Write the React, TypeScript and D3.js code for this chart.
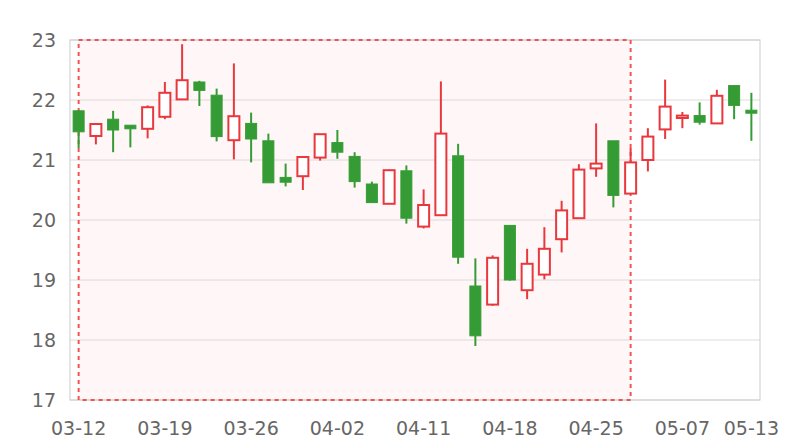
import React from 'react';
import * as d3 from 'd3';

const dates = [
  '03-12','03-13','03-14','03-15','03-16',
  '03-19','03-20','03-21','03-22','03-23',
  '03-26','03-27','03-28','03-29','03-30',
  '04-02','04-03','04-04','04-09','04-10',
  '04-11','04-12','04-13','04-16','04-17',
  '04-18','04-19','04-20','04-23','04-24',
  '04-25','04-26','04-27','05-02','05-03',
  '05-07','05-08','05-09','05-10','05-13',
];
// [open, close, low, high]
const opens = [21.82,21.4,21.68,21.58,21.52,21.72,22.01,22.3,22.08,21.33,21.61,21.32,20.71,20.73,21.04,21.29,21.06,20.6,20.27,20.82,19.89,20.08,21.07,18.9,18.59,19.91,18.83,19.09,19.68,20.03,20.86,21.32,20.44,21.0,21.51,21.7,21.74,21.61,22.24,21.83];
const closes = [21.47,21.6,21.5,21.52,21.88,22.12,22.33,22.16,21.39,21.73,21.35,20.62,20.63,21.05,21.43,21.13,20.64,20.29,20.83,20.03,20.25,21.44,19.38,18.07,19.37,19.0,19.27,19.52,20.16,20.84,20.94,20.41,20.96,21.39,21.89,21.74,21.63,22.07,21.91,21.78];
const lows = [21.2,21.26,21.13,21.21,21.36,21.68,22.0,21.9,21.31,21.01,20.96,20.62,20.56,20.5,20.99,21.02,20.54,20.29,20.27,19.94,19.86,20.08,19.27,17.9,18.57,18.99,18.68,19.01,19.46,20.03,20.72,20.21,20.44,20.81,21.35,21.53,21.59,21.61,21.68,21.32];
const highs = [21.83,21.6,21.82,21.58,21.91,22.3,22.93,22.32,22.19,22.61,21.79,21.44,20.94,21.05,21.43,21.5,21.13,20.64,20.84,20.91,20.51,22.31,21.27,19.36,19.41,19.91,19.52,19.88,20.32,20.93,21.61,21.32,21.2,21.53,22.34,21.8,21.96,22.17,22.24,22.12];
const xTickLabels = ['03-12','03-19','03-26','04-02','04-11','04-18','04-25','05-07','05-13'];
const yTicks = [17, 18, 19, 20, 21, 22, 23];
const markAreaRange = ['03-12', '04-27'];

const W = 800, H = 440;
const M = { left: 70, right: 40, top: 40, bottom: 40 };
const UP = '#e8383d';
const DOWN = '#359c35';
const FONT = 'DejaVu Sans, sans-serif';

export default function App() {
  const x = d3.scaleBand<string>().domain(dates).range([M.left, W - M.right]).padding(0);
  const y = d3.scaleLinear().domain([17, 23]).range([H - M.bottom, M.top]);
  const cx = (d: string) => (x(d) as number) + x.bandwidth() / 2;
  const bw = 11;
  const x0 = cx(markAreaRange[0]);
  const x1 = cx(markAreaRange[1]);
  return (
    <svg width={W} height={H} style={{ position: 'absolute', left: 0, top: 0, background: '#fff' }} fontFamily={FONT}>
      {yTicks.map((t) => (
        <line key={'g' + t} x1={M.left} x2={W - M.right} y1={y(t)} y2={y(t)} stroke="#dcdcdc" strokeWidth={1} />
      ))}
      <rect x={M.left} y={M.top} width={W - M.left - M.right} height={H - M.top - M.bottom} fill="none" stroke="#cccccc" strokeWidth={1} />
      <rect x={x0} y={y(23)} width={x1 - x0} height={y(17) - y(23)} fill="rgba(255,200,200,0.15)" stroke="#ee5555" strokeWidth={2} strokeDasharray="4,4" />
      {dates.map((d, i) => {
        const o = opens[i], c = closes[i];
        const up = c >= o;
        const col = up ? UP : DOWN;
        const top = y(Math.max(o, c)), bot = y(Math.min(o, c));
        const xc = cx(d);
        return (
          <g key={d}>
            <line x1={xc} x2={xc} y1={y(highs[i])} y2={top} stroke={col} strokeWidth={2} />
            <line x1={xc} x2={xc} y1={bot} y2={y(lows[i])} stroke={col} strokeWidth={2} />
            <rect x={xc - bw / 2} y={top} width={bw} height={Math.max(bot - top, 1.5)}
              fill={up ? '#fff' : DOWN} stroke={col} strokeWidth={up ? 2 : 1} />
          </g>
        );
      })}
      {yTicks.map((t) => (
        <text key={'y' + t} x={56} y={y(t)} dy="0.35em" textAnchor="end" fontSize={19} fill="#666">{t}</text>
      ))}
      {dates.filter((d) => xTickLabels.includes(d)).map((d) => (
        <text key={'x' + d} x={cx(d)} y={435} textAnchor="middle" fontSize={19} fill="#666">{d}</text>
      ))}
    </svg>
  );
}
